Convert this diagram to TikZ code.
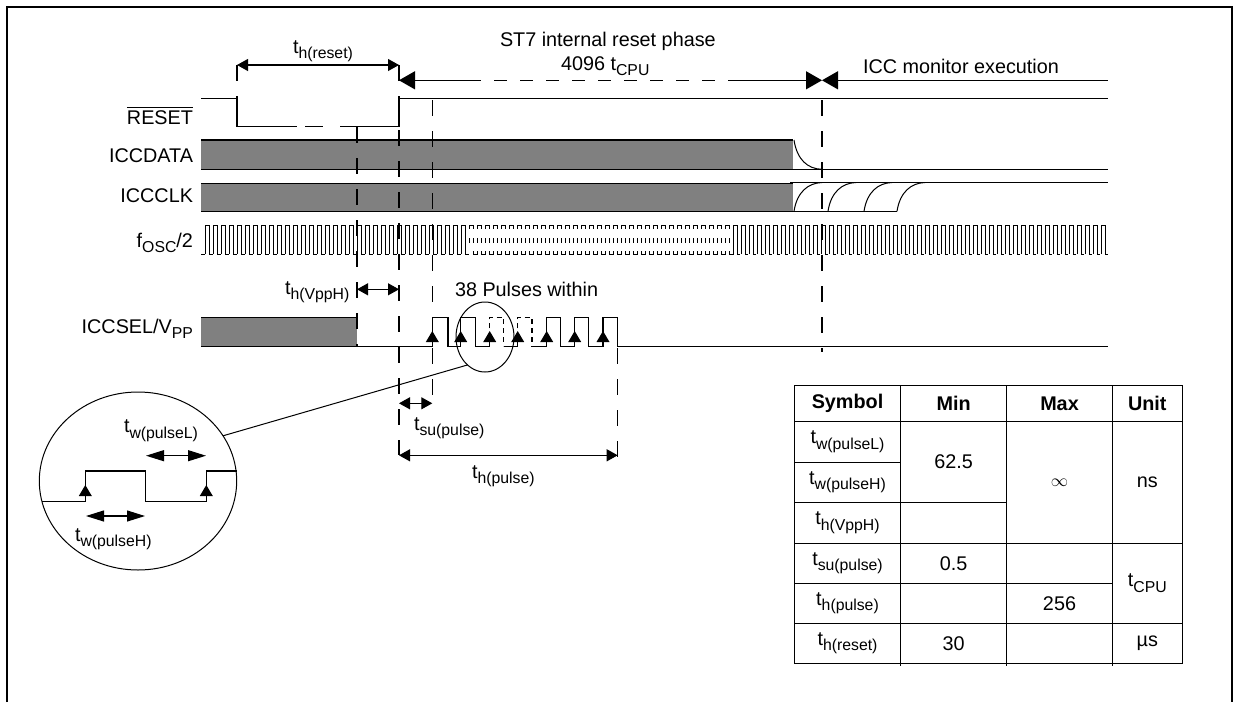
\documentclass[tikz,border=0pt]{standalone}
\usepackage{fontspec}
\setmainfont{Liberation Sans}
\usepackage{tikz}
\usetikzlibrary{shapes.geometric, arrows.meta, positioning}
\definecolor{bandgray}{gray}{0.5}
\newcommand{\sbs}[2]{#1\raisebox{-5.3pt}{\fontsize{15.8}{16}\selectfont #2}}

\begin{document}
\begin{tikzpicture}[
    x=1pt, y=-1pt,
    every node/.style={font=\fontsize{19.8}{24}\selectfont, inner sep=0pt, outer sep=0pt},
    wave/.style={line width=1.2pt},
    oscwave/.style={line width=0.85pt},
    thinwave/.style={line width=1pt},
    band/.style={fill=bandgray},
    timemark/.style={line width=1.1pt, dash pattern=on 16pt off 15pt},
    arrow/.style={line width=1.1pt, <->, >={Triangle[length=11pt,width=12pt]}},
    bigarrow/.style={line width=1.1pt, >={Triangle[length=16pt,width=18pt]}},
    longarrow/.style={line width=1.1pt, <->, >={Triangle[length=18pt,width=11pt]}},
    siglabel/.style={anchor=base east},
    freelabel/.style={anchor=base west},
    cell/.style={rectangle, draw, line width=1.3pt, text centered},
    zoomring/.style={ellipse, draw, line width=1pt},
]
    \useasboundingbox (0,0) rectangle (1235,702);
    \draw [line width=2pt] (7,702) -- (7,7) -- (1232,7) -- (1232,702);

    % signal names
    \node (lbl_reset) [siglabel] at (193,124) {RESET};
    \node (lbl_data) [siglabel] at (193,162.3) {ICCDATA};
    \node (lbl_clk) [siglabel] at (193,202.3) {ICCCLK};
    \node (lbl_osc) [siglabel] at (193,247) {\sbs{f}{OSC}/2};
    \node (lbl_sel) [siglabel] at (193,333.3) {\sbs{ICCSEL/V}{PP}};
    \draw [line width=1pt] ([yshift=3pt]lbl_reset.north west) -- ([yshift=3pt]lbl_reset.north east);

    % reset line
    \draw [wave] (201,98.3) -- (237,98.3) -- (237,126.3) -- (297,126.3);
    \draw [wave] (305,126.3) -- (323,126.3);
    \draw [wave] (340,126.3) -- (399,126.3) -- (399,98.3) -- (1108,98.3);

    % data and clock bands
    \fill [band] (201,140) rectangle (793,169.3);
    \draw [wave] (201,140) -- (793,140);
    \draw [wave] (201,169.3) -- (1108,169.3);
    \draw [thinwave] (794,140) .. controls (797,160) and (808,169) .. (822,169.3);
    \fill [band] (201,183.3) rectangle (793,211.3);
    \draw [wave] (201,183.3) -- (793,183.3);
    \draw [wave] (790,182.5) -- (1108,182.5);
    \draw [wave] (201,211.3) -- (897,211.3);
    \foreach \x in {794,828,864,897}
        \draw [thinwave] (\x,211.3) .. controls ({\x+3},192) and ({\x+14},183) .. ({\x+28},182.5);

    % oscillator
    \draw [oscwave] (201,254) -- (205,254);
    \foreach \i in {0,...,32}
        \draw [oscwave] ({205+\i*8},254) -- ++(0,-28.3) -- ++(4,0) -- ++(0,28.3) -- ++(4,0);
    \foreach \i in {0,...,32} {
        \draw [oscwave] ({469+\i*8},229) -- ++(0,-3.3) -- ++(4,0) -- ++(0,3.3);
        \draw [oscwave] ({469+\i*8},238) -- ++(0,5);
        \draw [oscwave] ({473+\i*8},238) -- ++(0,5);
        \draw [oscwave] ({473+\i*8},251) -- ++(0,3) -- ++(4,0) -- ++(0,-3);
    }
    \foreach \i in {0,...,46}
        \draw [oscwave] ({733+\i*8},254) -- ++(0,-28.3) -- ++(4,0) -- ++(0,28.3) -- ++(3,0);

    % pulses
    \fill [band] (201,317.3) rectangle (357,346.3);
    \draw [wave] (201,317.3) -- (357,317.3);
    \draw [wave] (201,346.3) -- (432.3,346.3) -- (432.3,317.3) -- (448,317.3) -- (448,346.3)
        -- (460.7,346.3) -- (460.7,317.3) -- (475.7,317.3) -- (475.7,346.3) -- (489.7,346.3);
    \draw [wave, dash pattern=on 5pt off 4pt] (489.7,346.3) -- (489.7,317.3) -- (503.7,317.3) -- (503.7,346.3);
    \draw [wave] (503.7,346.3) -- (517.7,346.3);
    \draw [wave, dash pattern=on 5pt off 4pt] (517.7,346.3) -- (517.7,317.3) -- (532,317.3) -- (532,346.3);
    \draw [wave] (532,346.3) -- (546.7,346.3) -- (546.7,317.3) -- (560.7,317.3) -- (560.7,346.3)
        -- (574.7,346.3) -- (574.7,317.3) -- (588.7,317.3) -- (588.7,346.3)
        -- (603,346.3) -- (603,317.3) -- (617.7,317.3) -- (617.7,346.3) -- (1108,346.3);
    \foreach \x in {432.3,460.7,489.7,517.7,546.7,574.7,603}
        \fill (\x,331) -- ({\x+6.5},342) -- ({\x-6.5},342) -- cycle;

    % timing marks
    \coordinate (reset_fall) at (237,65);
    \coordinate (reset_rise) at (399,65);
    \coordinate (sel_off) at (357,289.3);
    \coordinate (sel_end) at (399,289.3);
    \coordinate (pulse_first) at (432.3,403.3);
    \coordinate (pulse_start) at (399,403.3);
    \coordinate (hold_start) at (399,455.3);
    \coordinate (hold_end) at (617.7,455.3);
    \coordinate (phase_start) at (399,80.3);
    \coordinate (phase_gap) at (468,80.3);
    \coordinate (phase_back) at (736,80.3);
    \coordinate (phase_end) at (822,80.3);
    \coordinate (monitor_end) at (1108,80.3);

    \draw [timemark] (reset_fall) -- (237,98);
    \draw [timemark] (reset_rise) -- (399,98);
    \draw [timemark] (357,127) -- (357,346);
    \draw [timemark] (399,130) -- (hold_start);
    \draw [timemark] (432.3,100) -- (432.3,408);
    \draw [timemark] (617.7,317.3) -- (617.7,458);
    \draw [timemark] (822,100) -- (822,352);

    \draw [arrow] (reset_fall) -- (reset_rise);
    \draw [bigarrow, <-] (phase_start) -- (phase_gap);
    \draw [line width=1.1pt, dash pattern=on 13pt off 13pt] (phase_gap) -- (phase_back);
    \draw [bigarrow, ->] (phase_back) -- (phase_end);
    \draw [bigarrow, <-] (phase_end) -- (monitor_end);
    \draw [arrow] (sel_off) -- (sel_end);
    \draw [arrow] (pulse_start) -- (pulse_first);
    \draw [arrow] (hold_start) -- (hold_end);

    \node (t_reset) [freelabel] at (293,53.3) {\sbs{t}{h(reset)}};
    \node (t_phase) [freelabel] at (500,46.7) {ST7 internal reset phase};
    \node (t_cpu) [freelabel] at (561,70) {4096 \sbs{t}{CPU}};
    \node (t_monitor) [freelabel] at (863,73) {ICC monitor execution};
    \node (t_vpp) [freelabel] at (285,294) {\sbs{t}{h(VppH)}};
    \node (t_within) [freelabel] at (455,296) {38 Pulses within};
    \node (t_su) [freelabel] at (414,430) {\sbs{t}{su(pulse)}};
    \node (t_hold) [freelabel] at (472,478) {\sbs{t}{h(pulse)}};

    % magnified pulse
    \node (ring_small) [zoomring, minimum width=58pt, minimum height=70pt] at (485,337) {};
    \node (ring_big) [zoomring, minimum width=197.4pt, minimum height=178pt] at (138,481) {};
    \draw [line width=1pt] (ring_big.28.7) -- (ring_small.238.7);
    \draw [wave] (42,501.3) -- (85.3,501.3) -- (85.3,471) -- (145.7,471) -- (145.7,501.3)
        -- (206.3,501.3) -- (206.3,471) -- (236.7,471);
    \foreach \x in {85.3,206.3}
        \fill (\x,485) -- ({\x+6.5},496) -- ({\x-6.5},496) -- cycle;
    \coordinate (low_start) at (146,455.7);
    \coordinate (low_end) at (206,455.7);
    \coordinate (high_start) at (86,516);
    \coordinate (high_end) at (145,516);
    \draw [longarrow] (low_start) -- (low_end);
    \draw [longarrow] (high_start) -- (high_end);
    \node (t_low) [freelabel] at (124,432.7) {\sbs{t}{w(pulseL)}};
    \node (t_high) [freelabel] at (75,541) {\sbs{t}{w(pulseH)}};

    % limits table
    \node (c_sym) [cell, minimum width=106.4pt, minimum height=36pt, anchor=north west] at (794.3,385.3) {\textbf{Symbol}};
    \node (c_min) [cell, minimum width=106pt, minimum height=36pt, right=0pt of c_sym] {\textbf{Min}};
    \node (c_max) [cell, minimum width=105.6pt, minimum height=36pt, right=0pt of c_min] {\textbf{Max}};
    \node (c_unit) [cell, minimum width=70pt, minimum height=36pt, right=0pt of c_max] {\textbf{Unit}};

    \node (s_low) [cell, minimum width=106.4pt, minimum height=41pt, below=0pt of c_sym] {\sbs{t}{w(pulseL)}};
    \node (s_high) [cell, minimum width=106.4pt, minimum height=40pt, below=0pt of s_low] {\sbs{t}{w(pulseH)}};
    \node (s_vpp) [cell, minimum width=106.4pt, minimum height=41pt, below=0pt of s_high] {\sbs{t}{h(VppH)}};
    \node (s_su) [cell, minimum width=106.4pt, minimum height=40pt, below=0pt of s_vpp] {\sbs{t}{su(pulse)}};
    \node (s_hold) [cell, minimum width=106.4pt, minimum height=40pt, below=0pt of s_su] {\sbs{t}{h(pulse)}};
    \node (s_reset) [cell, minimum width=106.4pt, minimum height=40pt, below=0pt of s_hold] {\sbs{t}{h(reset)}};

    \node (m_width) [cell, minimum width=106pt, minimum height=81pt, below=0pt of c_min] {62.5};
    \node (m_vpp) [cell, minimum width=106pt, minimum height=41pt, below=0pt of m_width] {};
    \node (m_su) [cell, minimum width=106pt, minimum height=40pt, below=0pt of m_vpp] {0.5};
    \node (m_hold) [cell, minimum width=106pt, minimum height=40pt, below=0pt of m_su] {};
    \node (m_reset) [cell, minimum width=106pt, minimum height=40pt, below=0pt of m_hold] {30};

    \node (x_width) [cell, minimum width=105.6pt, minimum height=122pt, below=0pt of c_max] {\fontsize{17}{18}\selectfont$\infty$};
    \node (x_su) [cell, minimum width=105.6pt, minimum height=40pt, below=0pt of x_width] {};
    \node (x_hold) [cell, minimum width=105.6pt, minimum height=40pt, below=0pt of x_su] {256};
    \node (x_reset) [cell, minimum width=105.6pt, minimum height=40pt, below=0pt of x_hold] {};

    \node (u_ns) [cell, minimum width=70pt, minimum height=122pt, below=0pt of c_unit] {ns};
    \node (u_cpu) [cell, minimum width=70pt, minimum height=80pt, below=0pt of u_ns] {\sbs{t}{CPU}};
    \node (u_us) [cell, minimum width=70pt, minimum height=40pt, below=0pt of u_cpu] {µs};

    \foreach \c in {s_reset,m_reset,x_reset}
        \draw [line width=1pt] (\c.south east) -- ++(0,3);

\end{tikzpicture}
\end{document}
